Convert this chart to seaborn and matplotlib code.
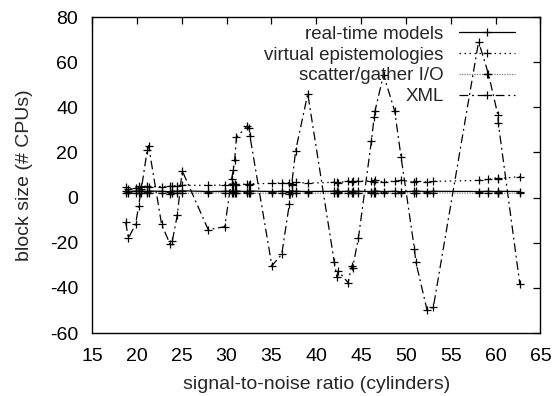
import matplotlib
matplotlib.use("Agg")
import matplotlib.pyplot as plt
import seaborn as sns
import numpy as np
import pandas as pd

# ---- data ----
x_vals = [18.75, 19.05, 19.85, 20.2, 20.5, 21.15, 21.3, 22.75, 23.7, 23.95,
          24.5, 25.05, 27.95, 29.8, 30.55, 30.75, 30.9, 31.1, 32.3, 32.5,
          32.6, 35.05, 36.15, 37.0, 37.25, 37.7, 39.05, 42.0, 42.3, 42.45,
          43.55, 43.95, 44.05, 44.7, 46.15, 46.45, 46.55, 47.5, 48.75, 49.45,
          50.95, 51.1, 52.35, 53.05, 58.1, 59.2, 60.25, 60.3, 62.7]

realtime = [3.0, 2.7, 2.9, 2.8, 3.0, 2.7, 2.9, 2.8, 2.6, 2.9,
            2.8, 3.0, 2.7, 2.8, 2.9, 2.6, 2.8, 2.9, 2.7, 2.8,
            2.9, 2.7, 2.8, 2.6, 2.9, 2.8, 2.7, 2.8, 2.9, 2.7,
            2.8, 2.6, 2.9, 2.8, 2.7, 2.8, 2.9, 2.7, 2.8, 2.6,
            2.8, 2.9, 2.7, 2.8, 2.7, 2.8, 2.6, 2.8, 2.7]

virtual = [4.5, 3.8, 4.2, 5.0, 4.6, 5.2, 4.8, 4.9, 5.0, 5.2,
           5.3, 5.5, 5.4, 5.6, 6.0, 5.6, 6.2, 5.8, 6.0, 5.8,
           6.1, 6.3, 6.5, 6.6, 6.2, 6.8, 6.4, 6.8, 6.9, 6.6,
           7.3, 7.1, 7.4, 7.3, 7.4, 7.0, 7.6, 6.9, 7.3, 7.8,
           6.7, 7.3, 6.9, 7.2, 7.6, 8.1, 8.8, 8.4, 9.3]

scatter = [2.2, 1.9, 2.1, 2.0, 2.2, 1.9, 2.0, 2.1, 1.8, 2.0,
           2.1, 1.9, 2.0, 2.2, 1.9, 2.0, 2.1, 1.9, 2.0, 2.2,
           1.9, 2.0, 2.1, 1.8, 2.0, 2.1, 1.9, 2.0, 2.2, 1.9,
           2.0, 2.1, 1.9, 2.0, 2.1, 1.9, 2.0, 2.2, 1.9, 2.0,
           2.1, 1.9, 2.0, 2.1, 1.9, 2.0, 2.1, 1.9, 2.0]

xml = [-10.9, -18.0, -11.8, -3.5, 4.0, 21.0, 23.0, -11.8, -20.7, -19.2,
       -7.8, 11.9, -14.2, -12.9, 8.1, 12.2, 16.7, 26.7, 31.7, 31.0,
       27.3, -30.2, -25.1, -2.8, 5.5, 20.8, 46.0, -28.4, -35.0, -32.5,
       -37.7, -30.2, -31.3, -17.8, 25.1, 35.6, 38.4, 54.5, 38.2, 18.1,
       -22.9, -28.5, -49.8, -48.6, 69.1, 54.8, 36.6, 32.9, -38.4]

series_names = ["real-time models", "virtual epistemologies",
                "scatter/gather I/O", "XML"]
x_ticks = [15, 20, 25, 30, 35, 40, 45, 50, 55, 60, 65]
y_ticks = [-60, -40, -20, 0, 20, 40, 60, 80]

# ---- styling ----
sns.set_style("white")
plt.rcParams["font.family"] = ["Liberation Sans", "DejaVu Sans"]
plt.rcParams["axes.unicode_minus"] = False

fig = plt.figure(figsize=(5.58, 3.96), dpi=100)
ax = fig.add_axes([0.165, 0.159, 0.8036, 0.798])

styles = [
    dict(color="black", linestyle="-"),
    dict(color="black", linestyle=(0, (1.2, 2.8))),
    dict(color="#808080", linestyle=(0, (1, 1))),
    dict(color="black", linestyle=(0, (7, 3, 1.5, 3))),
]
data = [realtime, virtual, scatter, xml]

for name, ys, st in zip(series_names, data, styles):
    df = pd.DataFrame({"x": x_vals, "y": ys})
    sns.lineplot(data=df, x="x", y="y", ax=ax, estimator=None, sort=False,
                 label=name, lw=0.9, marker="+", markersize=6,
                 markeredgewidth=0.9, markeredgecolor="black", **st)

FS = 14
ax.set_xlim(15, 65)
ax.set_ylim(-60, 80)
ax.set_xticks(x_ticks)
ax.set_yticks(y_ticks)
ax.set_xticklabels([str(v) for v in x_ticks])
ax.set_yticklabels([str(v) for v in y_ticks])
ax.tick_params(direction="in", length=5, width=0.9, top=True, right=True,
               labelsize=FS, colors="black")
ax.tick_params(axis="x", pad=11)
ax.tick_params(axis="y", pad=10)
for sp in ax.spines.values():
    sp.set_color("black")
    sp.set_linewidth(1.0)

ax.set_xlabel("signal-to-noise ratio (cylinders)", fontsize=FS, labelpad=8)
ax.set_ylabel("block size (# CPUs)", fontsize=FS, labelpad=12)

leg = ax.legend(loc="upper right", bbox_to_anchor=(0.943, 0.973),
                frameon=False, markerfirst=False, borderpad=0,
                fontsize=13.5, handlelength=3.0, handletextpad=0.8,
                labelspacing=0.2, borderaxespad=0, numpoints=1)

fig.savefig("out.png", dpi=100)
